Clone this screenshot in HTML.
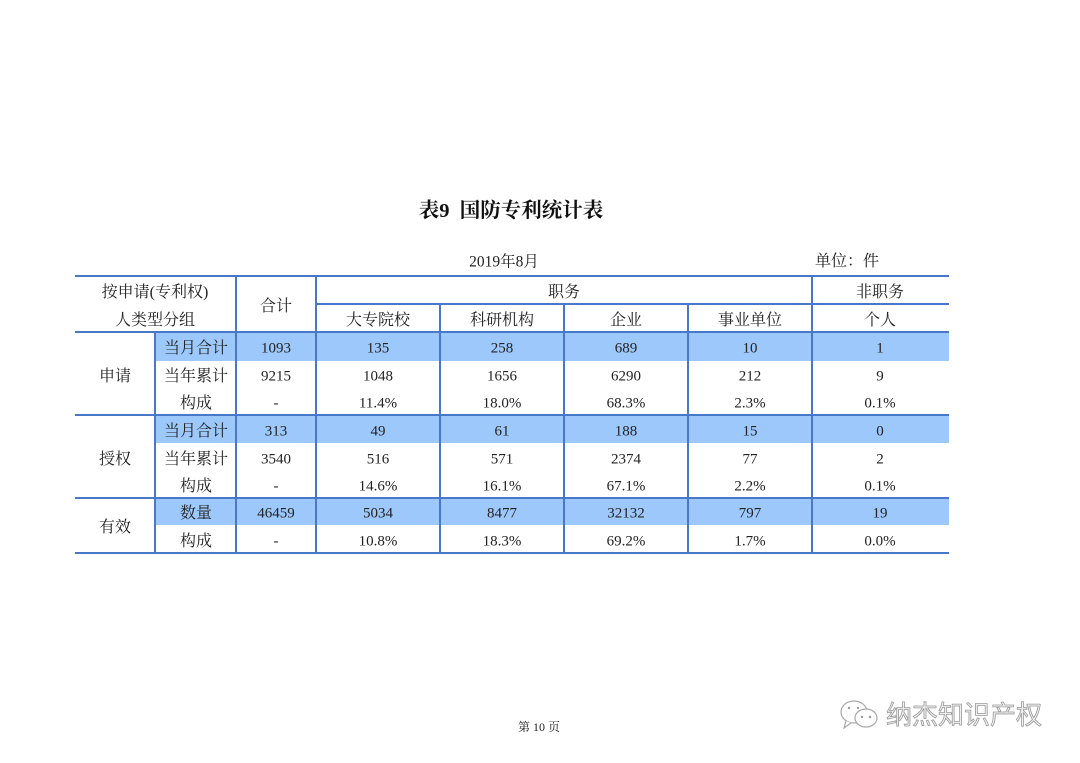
<!DOCTYPE html>
<html><head><meta charset="utf-8">
<style>
html,body{margin:0;padding:0;background:#fff;}
#p{position:relative;width:1080px;height:763px;overflow:hidden;background:#fff;font-family:"Liberation Serif","Noto Serif CJK SC",serif;color:#222;}
.t{position:absolute;white-space:nowrap;transform:translate(-50%,calc(-50% + 2px));line-height:1;}
.c{font-size:16px;}
.n{font-size:15px;}
.h{position:absolute;background:#4a78c8;}
.hl{position:absolute;background:#9cc8fb;left:156px;width:793px;}
</style></head><body><div id="p">
<div class="t" style="left:511px;top:209px;font-size:20.5px;font-weight:bold;color:#111;">表9&nbsp;&nbsp;国防专利统计表</div>
<div class="t" style="left:504px;top:260px;font-size:15.5px;">2019年8月</div>
<div class="t" style="left:847px;top:260px;font-size:16px;">单位：件</div>

<!-- highlight rows -->
<div class="hl" style="top:333px;height:28px;"></div>
<div class="hl" style="top:416px;height:27px;"></div>
<div class="hl" style="top:499px;height:26px;"></div>

<!-- horizontal lines -->
<div class="h" style="left:75px;width:874px;top:275px;height:2px;"></div>
<div class="h" style="left:75px;width:874px;top:331px;height:2px;"></div>
<div class="h" style="left:75px;width:874px;top:414px;height:2px;"></div>
<div class="h" style="left:75px;width:874px;top:497px;height:2px;"></div>
<div class="h" style="left:75px;width:874px;top:552px;height:2px;"></div>
<div class="h" style="left:316px;width:633px;top:303px;height:2px;"></div>
<!-- vertical lines -->
<div class="h" style="left:154px;width:2px;top:332px;height:221px;"></div>
<div class="h" style="left:235px;width:2px;top:276px;height:277px;"></div>
<div class="h" style="left:315px;width:2px;top:276px;height:277px;"></div>
<div class="h" style="left:439px;width:2px;top:304px;height:249px;"></div>
<div class="h" style="left:563px;width:2px;top:304px;height:249px;"></div>
<div class="h" style="left:687px;width:2px;top:304px;height:249px;"></div>
<div class="h" style="left:811px;width:2px;top:276px;height:277px;"></div>

<!-- header -->
<div class="t c" style="left:155px;top:291px;">按申请(专利权)</div>
<div class="t c" style="left:155px;top:319px;">人类型分组</div>
<div class="t c" style="left:276px;top:305px;">合计</div>
<div class="t c" style="left:564px;top:291px;">职务</div>
<div class="t c" style="left:880px;top:291px;">非职务</div>
<div class="t c" style="left:378px;top:319px;">大专院校</div>
<div class="t c" style="left:502px;top:319px;">科研机构</div>
<div class="t c" style="left:626px;top:319px;">企业</div>
<div class="t c" style="left:750px;top:319px;">事业单位</div>
<div class="t c" style="left:880px;top:319px;">个人</div>

<!-- group labels -->
<div class="t c" style="left:115px;top:375px;">申请</div>
<div class="t c" style="left:115px;top:458px;">授权</div>
<div class="t c" style="left:115px;top:526px;">有效</div>

<!-- row labels -->
<div class="t c" style="left:196px;top:347px;">当月合计</div>
<div class="t c" style="left:196px;top:375px;">当年累计</div>
<div class="t c" style="left:196px;top:402px;">构成</div>
<div class="t c" style="left:196px;top:430px;">当月合计</div>
<div class="t c" style="left:196px;top:458px;">当年累计</div>
<div class="t c" style="left:196px;top:485px;">构成</div>
<div class="t c" style="left:196px;top:512px;">数量</div>
<div class="t c" style="left:196px;top:540px;">构成</div>

<!-- data -->
<div class="t n" style="left:276px;top:347px;">1093</div>
<div class="t n" style="left:378px;top:347px;">135</div>
<div class="t n" style="left:502px;top:347px;">258</div>
<div class="t n" style="left:626px;top:347px;">689</div>
<div class="t n" style="left:750px;top:347px;">10</div>
<div class="t n" style="left:880px;top:347px;">1</div>

<div class="t n" style="left:276px;top:375px;">9215</div>
<div class="t n" style="left:378px;top:375px;">1048</div>
<div class="t n" style="left:502px;top:375px;">1656</div>
<div class="t n" style="left:626px;top:375px;">6290</div>
<div class="t n" style="left:750px;top:375px;">212</div>
<div class="t n" style="left:880px;top:375px;">9</div>

<div class="t n" style="left:276px;top:402px;">-</div>
<div class="t n" style="left:378px;top:402px;">11.4%</div>
<div class="t n" style="left:502px;top:402px;">18.0%</div>
<div class="t n" style="left:626px;top:402px;">68.3%</div>
<div class="t n" style="left:750px;top:402px;">2.3%</div>
<div class="t n" style="left:880px;top:402px;">0.1%</div>

<div class="t n" style="left:276px;top:430px;">313</div>
<div class="t n" style="left:378px;top:430px;">49</div>
<div class="t n" style="left:502px;top:430px;">61</div>
<div class="t n" style="left:626px;top:430px;">188</div>
<div class="t n" style="left:750px;top:430px;">15</div>
<div class="t n" style="left:880px;top:430px;">0</div>

<div class="t n" style="left:276px;top:458px;">3540</div>
<div class="t n" style="left:378px;top:458px;">516</div>
<div class="t n" style="left:502px;top:458px;">571</div>
<div class="t n" style="left:626px;top:458px;">2374</div>
<div class="t n" style="left:750px;top:458px;">77</div>
<div class="t n" style="left:880px;top:458px;">2</div>

<div class="t n" style="left:276px;top:485px;">-</div>
<div class="t n" style="left:378px;top:485px;">14.6%</div>
<div class="t n" style="left:502px;top:485px;">16.1%</div>
<div class="t n" style="left:626px;top:485px;">67.1%</div>
<div class="t n" style="left:750px;top:485px;">2.2%</div>
<div class="t n" style="left:880px;top:485px;">0.1%</div>

<div class="t n" style="left:276px;top:512px;">46459</div>
<div class="t n" style="left:378px;top:512px;">5034</div>
<div class="t n" style="left:502px;top:512px;">8477</div>
<div class="t n" style="left:626px;top:512px;">32132</div>
<div class="t n" style="left:750px;top:512px;">797</div>
<div class="t n" style="left:880px;top:512px;">19</div>

<div class="t n" style="left:276px;top:540px;">-</div>
<div class="t n" style="left:378px;top:540px;">10.8%</div>
<div class="t n" style="left:502px;top:540px;">18.3%</div>
<div class="t n" style="left:626px;top:540px;">69.2%</div>
<div class="t n" style="left:750px;top:540px;">1.7%</div>
<div class="t n" style="left:880px;top:540px;">0.0%</div>

<!-- footer -->
<div class="t" style="left:539px;top:725px;font-size:12px;">第&nbsp;10&nbsp;页</div>

<!-- watermark -->
<svg style="position:absolute;left:838px;top:698px;" width="46" height="36" viewBox="0 0 46 36">
<ellipse cx="16" cy="14" rx="13" ry="11" fill="#fff" stroke="#aaa" stroke-width="1.2"/>
<path d="M8 23 L6 30 L13 25" fill="#fff" stroke="#aaa" stroke-width="1.2"/>
<ellipse cx="28" cy="20" rx="11" ry="9" fill="#fff" stroke="#aaa" stroke-width="1.2"/>
<circle cx="24" cy="19" r="1.2" fill="#999"/><circle cx="32" cy="19" r="1.2" fill="#999"/>
<circle cx="11" cy="10" r="1.2" fill="#999"/><circle cx="20" cy="10" r="1.2" fill="#999"/>
</svg>
<div style="position:absolute;left:886px;top:700px;font-size:26px;line-height:30px;font-family:'Liberation Sans','Noto Sans CJK SC',sans-serif;color:#f2f2f2;-webkit-text-stroke:0.8px #999;white-space:nowrap;">纳杰知识产权</div>
</div></body></html>
